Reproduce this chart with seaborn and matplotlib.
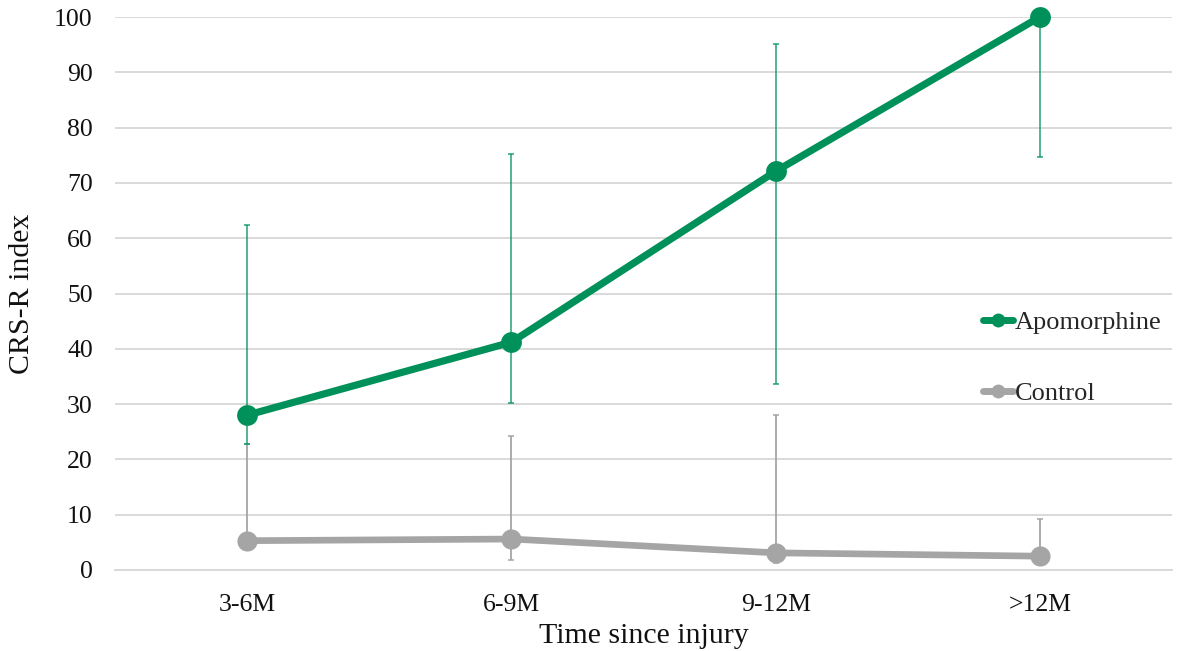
import numpy as np
import pandas as pd
import matplotlib
matplotlib.use('Agg')
import matplotlib.pyplot as plt
import seaborn as sns
from matplotlib.lines import Line2D

# data
periods = ['3-6M', '6-9M', '9-12M', '>12M']
apo_mean = [28.0, 41.2, 72.1, 100.0]
apo_upper = [62.4, 75.2, 95.2, 100.0]
apo_lower = [22.8, 30.2, 33.6, 74.7]
ctrl_mean = [5.3, 5.6, 3.1, 2.5]
ctrl_upper = [22.8, 24.3, 28.0, 9.3]
ctrl_lower = [5.3, 1.8, 1.2, 2.5]

green = '#00915a'
grey = '#a5a5a5'

sns.set_theme(style='white')
plt.rcParams['font.family'] = ['Liberation Serif', 'DejaVu Serif']

df = pd.DataFrame({
    'period': periods * 2,
    'value': apo_mean + ctrl_mean,
    'group': ['Apomorphine'] * 4 + ['Control'] * 4,
})

fig = plt.figure(figsize=(12.03, 6.51), dpi=100)
ax = fig.add_axes([115/1203, 1-570/651, (1172-115)/1203, (570-17)/651])

x = np.arange(len(periods))

# control first (drawn below)
ax.errorbar(x, ctrl_mean,
            yerr=[np.array(ctrl_mean)-np.array(ctrl_lower), np.array(ctrl_upper)-np.array(ctrl_mean)],
            fmt='none', ecolor=grey, elinewidth=1.3, capsize=2.5, capthick=1.1, zorder=3, clip_on=False)
sns.lineplot(data=df[df.group == 'Control'], x='period', y='value', sort=False,
             color=grey, linewidth=4.8, marker='o', markersize=14.5, markeredgewidth=0,
             ax=ax, zorder=4, legend=False)

ax.errorbar(x, apo_mean,
            yerr=[np.array(apo_mean)-np.array(apo_lower), np.array(apo_upper)-np.array(apo_mean)],
            fmt='none', ecolor=green, elinewidth=1.1, capsize=2.5, capthick=1.1, zorder=5, alpha=0.85, clip_on=False)
sns.lineplot(data=df[df.group == 'Apomorphine'], x='period', y='value', sort=False,
             color=green, linewidth=5.2, marker='o', markersize=15, markeredgewidth=0,
             ax=ax, zorder=6, legend=False)

for ln in ax.lines:
    ln.set_clip_on(False)

ax.set_xlim(-0.5, len(periods) - 0.5)
ax.set_ylim(0, 100)
ax.set_yticks(range(0, 101, 10))
ax.grid(axis='y', color='#d9d9d9', linewidth=1.4)
ax.grid(axis='x', visible=False)
for s in ['top', 'right', 'left']:
    ax.spines[s].set_visible(False)
ax.spines['bottom'].set_color('#d9d9d9')
ax.spines['bottom'].set_linewidth(1.4)
ax.set_axisbelow(True)
ax.tick_params(axis='y', length=0, pad=16, labelsize=18.5, labelcolor='#111111')
ax.tick_params(axis='x', length=0, pad=17, labelsize=18.5, labelcolor='#111111')

ax.set_xlabel('Time since injury', fontsize=21.5, labelpad=5, color='#111111')
ax.set_ylabel('CRS-R index', fontsize=21.5, labelpad=14, color='#111111')

handles = [
    Line2D([], [], color=green, linewidth=5, marker='o', markersize=10, markeredgewidth=0),
    Line2D([], [], color=grey, linewidth=5, marker='o', markersize=10, markeredgewidth=0),
]
fig.legend(handles, ['Apomorphine', 'Control'], loc='center left',
           bbox_to_anchor=(983/1203, 1-358/651), frameon=False, fontsize=19,
           handlelength=1.15, handletextpad=0.05, labelspacing=1.8,
           borderpad=0, borderaxespad=0)

fig.savefig('out.png', dpi=100)
